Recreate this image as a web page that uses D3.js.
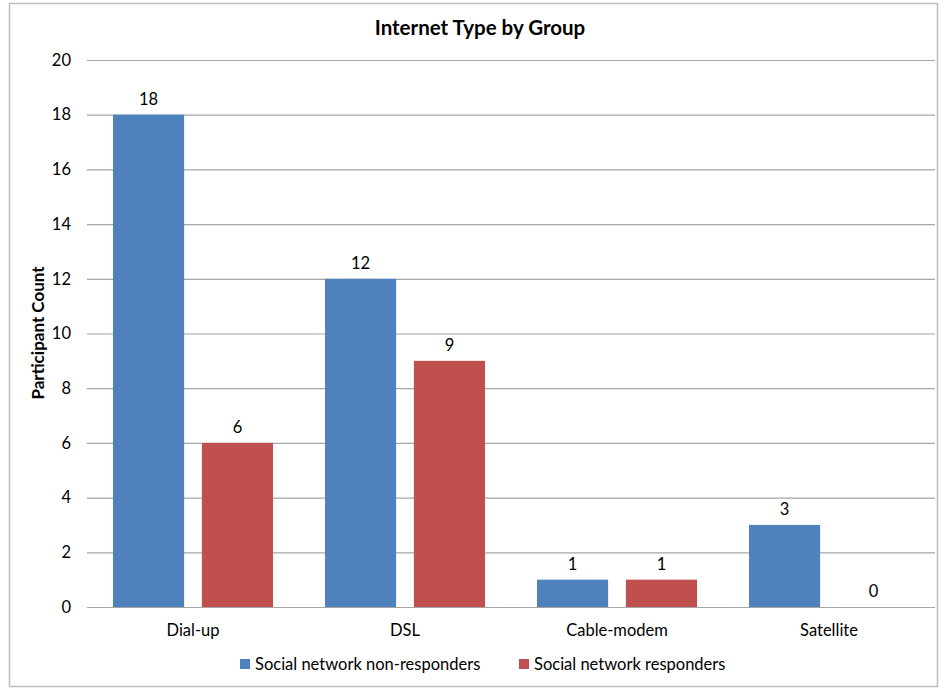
<!DOCTYPE html>
<html>
<head>
<meta charset="utf-8">
<script src="https://cdn.jsdelivr.net/npm/d3@7"></script>
<style>
  html, body { margin: 0; padding: 0; background: #fff; }
  svg { display: block; font-family: Lato, "Open Sans", sans-serif; }
</style>
</head>
<body>
<svg id="chart" width="943" height="688"></svg>
<script>
// Internet connection type by group
const categories = ["Dial-up", "DSL", "Cable-modem", "Satellite"];
const seriesNames = ["Social network non-responders", "Social network responders"];
const nonResponders = [18, 12, 1, 3];
const responders = [6, 9, 1, 0];
const yTicks = [0, 2, 4, 6, 8, 10, 12, 14, 16, 18, 20];
const colors = ["#4F81BD", "#C0504D"];

const seriesValues = [nonResponders, responders];
const svg = d3.select("#chart");
const fontSize = 16.5;

const plot = { left: 87, right: 935, top: 60, bottom: 607 };

// chart frame
svg.append("rect")
  .attr("x", 9.5).attr("y", 3.5)
  .attr("width", 928).attr("height", 683)
  .attr("fill", "#fff").attr("stroke", "#bdbdbd").attr("stroke-width", 1.5);

const x0 = d3.scaleBand().domain(categories).range([plot.left, plot.right]).paddingInner(0).paddingOuter(0);
const x1 = d3.scaleBand().domain(seriesNames).range([26, x0.bandwidth() - 26]).paddingInner(0.2);
const y = d3.scaleLinear().domain([0, 20]).range([plot.bottom, plot.top]);

// horizontal gridlines
svg.append("g")
  .selectAll("line")
  .data(yTicks)
  .join("line")
  .attr("x1", plot.left).attr("x2", plot.right)
  .attr("y1", d => y(d) + 0.5).attr("y2", d => y(d) + 0.5)
  .attr("stroke", "#a6a6a6").attr("stroke-width", 1.2);

// y axis tick labels
const yAxis = d3.axisLeft(y).tickValues(yTicks).tickSize(0).tickPadding(16);
const yg = svg.append("g").attr("transform", `translate(${plot.left},0)`).call(yAxis);
yg.select(".domain").remove();
yg.selectAll("text").attr("font-size", fontSize).attr("fill", "#000").attr("font-family", "Lato, sans-serif");

// bars
const groups = svg.append("g")
  .selectAll("g")
  .data(categories)
  .join("g")
  .attr("transform", c => `translate(${x0(c)},0)`);

groups.selectAll("rect")
  .data((c, i) => seriesNames.map((s, k) => ({ s, k, v: seriesValues[k][i] })))
  .join("rect")
  .attr("x", d => x1(d.s))
  .attr("width", x1.bandwidth())
  .attr("y", d => y(d.v))
  .attr("height", d => y(0) - y(d.v))
  .attr("fill", d => colors[d.k]);

// value labels
groups.selectAll("text")
  .data((c, i) => seriesNames.map((s, k) => ({ s, k, v: seriesValues[k][i] })))
  .join("text")
  .attr("x", d => x1(d.s) + x1.bandwidth() / 2)
  .attr("y", d => y(d.v) - 10)
  .attr("text-anchor", "middle")
  .attr("font-size", fontSize)
  .attr("fill", "#000")
  .text(d => d.v);

// x axis category labels
const xAxis = d3.axisBottom(x0).tickSize(0).tickPadding(17);
const xg = svg.append("g").attr("transform", `translate(0,${plot.bottom})`).call(xAxis);
xg.select(".domain").remove();
xg.selectAll("text").attr("font-size", fontSize).attr("fill", "#000").attr("font-family", "Lato, sans-serif");

// title
svg.append("text")
  .attr("x", 480).attr("y", 35)
  .attr("text-anchor", "middle")
  .attr("font-size", 20.5).attr("font-weight", "bold")
  .text("Internet Type by Group");

// y axis title
svg.append("text")
  .attr("transform", "translate(44,333) rotate(-90)")
  .attr("text-anchor", "middle")
  .attr("font-size", 17).attr("font-weight", "bold")
  .text("Participant Count");

// legend
const legendX = [240, 519];
const legend = svg.append("g")
  .selectAll("g")
  .data(seriesNames)
  .join("g")
  .attr("transform", (d, i) => `translate(${legendX[i]},659)`);
legend.append("rect").attr("width", 10).attr("height", 10).attr("fill", (d, i) => colors[i]);
legend.append("text")
  .attr("x", 15).attr("y", 10.5)
  .attr("font-size", fontSize)
  .text(d => d);
</script>
</body>
</html>
